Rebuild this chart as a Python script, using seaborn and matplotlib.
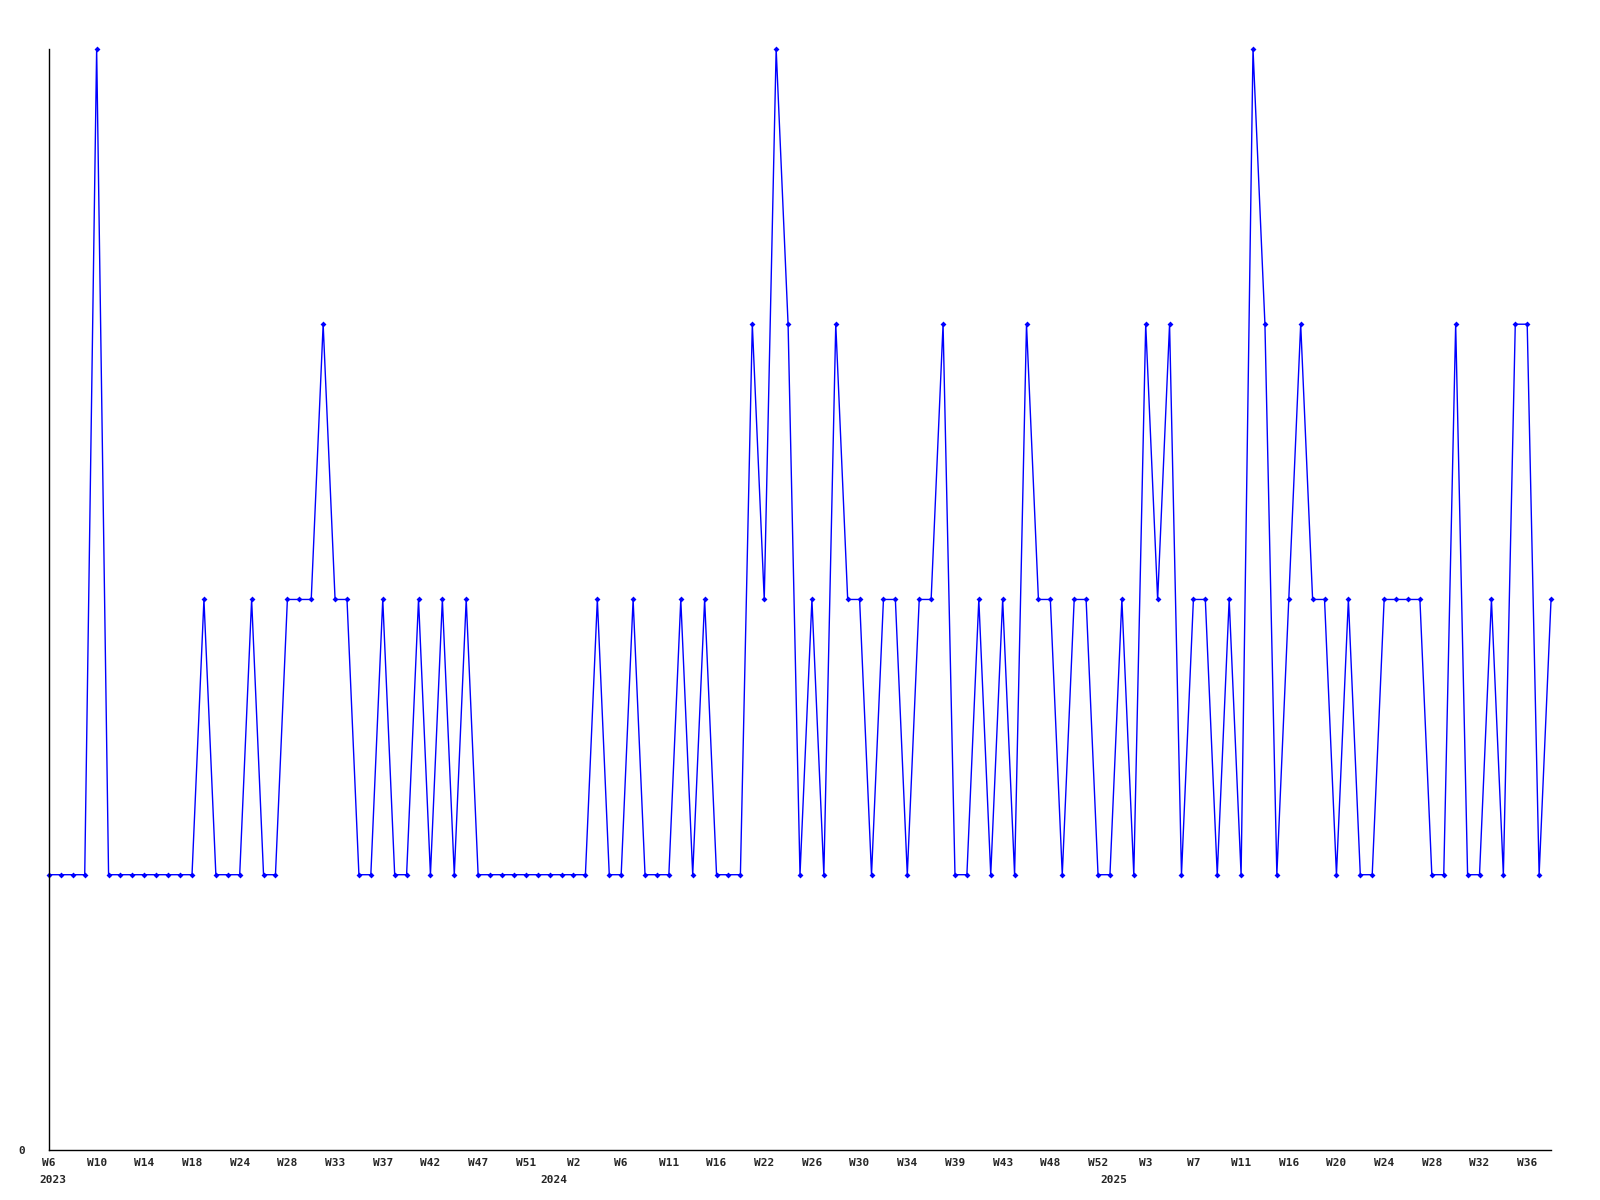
import numpy as np
import matplotlib
matplotlib.use("Agg")
import matplotlib.pyplot as plt
import matplotlib.transforms as mtransforms
import seaborn as sns

# ==========================================
# Data (weekly counts, 2023 W6 .. 2025 W38)
# ==========================================
weeks_2023 = [6, 7, 8, 9, 10, 11, 12, 13, 14, 15, 16, 17, 18, 19, 21, 22, 24, 25, 26, 27, 28,
              29, 30, 31, 33, 34, 35, 36, 37, 38, 39, 41, 42, 43, 44, 46, 47, 48, 49, 50, 51, 52]
weeks_2024 = [0, 1, 2, 3, 4, 5, 6, 7, 8, 10, 11, 12, 13, 14, 16, 17, 19, 20, 22, 23, 24, 25, 26,
              27, 28, 29, 30, 31, 32, 33, 34, 35, 36, 38, 39, 40, 41, 42, 43, 44, 45, 47, 48,
              49, 50, 51, 52]
weeks_2025 = [0, 1, 2, 3, 4, 5, 6, 7, 8, 9, 10, 11, 12, 13, 15, 16, 17, 18, 19, 20, 21, 22, 23,
              24, 25, 26, 27, 28, 29, 30, 31, 32, 33, 34, 35, 36, 37, 38]
years = [2023, 2024, 2025]

counts = [
    1, 1, 1, 1, 4, 1, 1, 1, 1, 1, 1, 1, 1,
    2, 1, 1, 1, 2, 1, 1, 2, 2, 2, 3, 2, 2,
    1, 1, 2, 1, 1, 2, 1, 2, 1, 2, 1, 1, 1, 1, 1,
    1, 1, 1, 1, 1, 2, 1, 1, 2, 1, 1, 1, 2, 1, 2, 1, 1, 1,
    3, 2, 4, 3, 1, 2, 1, 3, 2, 2, 1, 2, 2, 1, 2, 2, 3,
    1, 1, 2, 1, 2, 1, 3, 2, 2, 1, 2, 2, 1, 1, 2, 1,
    3, 2, 3, 1, 2, 2, 1, 2, 1, 4, 3, 1, 2, 3, 2, 2, 1,
    2, 1, 1, 2, 2, 2, 2, 1, 1, 3, 1, 1, 2, 1, 3, 3, 1, 2,
]

# ==========================================
# Build index / labels
# ==========================================
week_lists = [weeks_2023, weeks_2024, weeks_2025]
week_labels = []
year_starts = []
for yr, wl in zip(years, week_lists):
    year_starts.append(len(week_labels))
    week_labels += [f"W{w}" for w in wl]

x = np.arange(len(counts))
tick_idx = x[::4]

# ==========================================
# Plot
# ==========================================
sns.set_style("white")
plt.rcParams['font.family'] = ['DejaVu Sans Mono']

fig = plt.figure(figsize=(16, 12), dpi=100)
ax = fig.add_axes([0.0306, 0.0417, 0.9388, 0.9175])

sns.lineplot(x=x, y=counts, ax=ax, color='#0000ff', linewidth=1.0,
             marker='D', markersize=3, markeredgewidth=0, clip_on=False)

ax.set_xlim(0, len(counts) - 1)
ax.set_ylim(0, 4)
sns.despine(ax=ax)
for s in ['left', 'bottom']:
    ax.spines[s].set_linewidth(1.0)
    ax.spines[s].set_color('black')

ax.set_yticks([0])
ax.set_yticklabels(['0'], fontsize=8, fontweight='bold')
ax.tick_params(axis='y', length=0, pad=17)

ax.set_xticks(tick_idx)
ax.set_xticklabels([week_labels[i] for i in tick_idx], fontsize=8, fontweight='bold')
ax.tick_params(axis='x', which='major', length=0, pad=6)

# year labels on minor ticks (keep the one that shares a spot with W6)
ax.xaxis.remove_overlapping_locs = False
ax.set_xticks(year_starts, minor=True)
ax.set_xticklabels([str(y) for y in years], minor=True, fontsize=8, fontweight='bold')
ax.tick_params(axis='x', which='minor', length=0, pad=18)
shift = mtransforms.ScaledTranslation(4 / 100, 0, fig.dpi_scale_trans)
for lbl in ax.get_xticklabels(minor=True):
    lbl.set_transform(lbl.get_transform() + shift)

ax.set_xlabel('')
ax.set_ylabel('')

fig.savefig('out.png', dpi=100)
